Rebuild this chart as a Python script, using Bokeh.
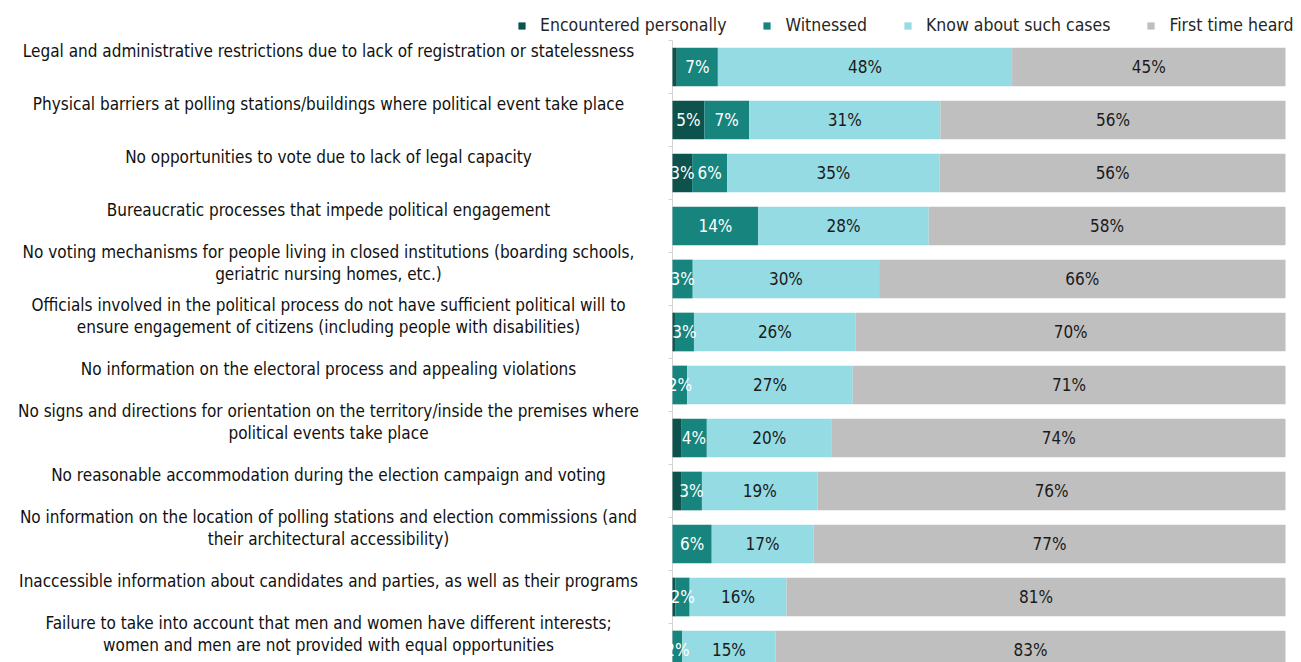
import numpy as np
from bokeh.plotting import figure
from bokeh.models import ColumnDataSource, Range1d, Legend, LegendItem
from bokeh.core.properties import value
from bokeh.embed import file_html
from bokeh.resources import INLINE

categories = [
    "Legal and administrative restrictions due to lack of registration or statelessness",
    "Physical barriers at polling stations/buildings where political event take place",
    "No opportunities to vote due to lack of legal capacity",
    "Bureaucratic processes that impede political engagement",
    "No voting mechanisms for people living in closed institutions (boarding schools,\ngeriatric nursing homes, etc.)",
    "Officials involved in the political process do not have sufficient political will to\nensure engagement of citizens (including people with disabilities)",
    "No information on the electoral process and appealing violations",
    "No signs and directions for orientation on the territory/inside the premises where\npolitical events take place",
    "No reasonable accommodation during the election campaign and voting",
    "No information on the location of polling stations and election commissions (and\ntheir architectural accessibility)",
    "Inaccessible information about candidates and parties, as well as their programs",
    "Failure to take into account that men and women have different interests;\nwomen and men are not provided with equal opportunities",
]
series_names = ["Encountered personally", "Witnessed", "Know about such cases", "First time heard"]
encountered = [0.7, 5.2, 3.2, 0.0, 0.0, 0.4, 0.0, 1.4, 1.4, 0.0, 0.5, 0.0]
witnessed   = [6.7, 7.3, 5.7, 14.0, 3.3, 3.1, 2.4, 4.2, 3.4, 6.4, 2.3, 1.6]
know        = [48.0, 31.2, 34.7, 27.8, 30.4, 26.4, 27.0, 20.4, 18.9, 16.6, 15.8, 15.2]
first_time  = [44.6, 56.3, 56.4, 58.2, 66.3, 70.1, 70.6, 74.0, 76.3, 77.0, 81.4, 83.2]

colors = ["#0d524d", "#17857e", "#95dbe4", "#bfbfbf"]
label_colors = ["white", "white", "#1a1a1a", "#1a1a1a"]
keys = ["enc", "wit", "know", "first"]
values = [encountered, witnessed, know, first_time]
FONT = value("DejaVu Sans Condensed")

n = len(categories)
ypos = list(range(n))
data = dict(y=ypos, cat=categories)
for k, v in zip(keys, values):
    data[k] = v
source = ColumnDataSource(data)

W, H = 1301, 662
px_per_pct = 6.13      # horizontal scale
x0_px = 672            # where 0% sits
row_px = 53.0          # vertical pitch
row0_px = 66.5         # centre of first row

p = figure(width=W, height=H, output_backend="svg", toolbar_location=None,
           x_range=Range1d(-x0_px / px_per_pct, (W - x0_px) / px_per_pct),
           y_range=Range1d((H - row0_px) / row_px, -row0_px / row_px),
           x_axis_location=None, y_axis_location=None,
           min_border=0, min_border_left=0, min_border_right=0,
           min_border_top=0, min_border_bottom=0)
p.outline_line_color = None
p.xgrid.visible = False
p.ygrid.visible = False
p.background_fill_color = "white"

# axis line and ticks (category axis at 0%)
tick_len = 4 / px_per_pct
p.segment(x0=[0], y0=[-0.5], x1=[0], y1=[n - 0.5], line_color="#d4d4d4", line_width=1)
bounds = [i - 0.5 for i in range(n + 1)]
p.segment(x0=[-tick_len] * len(bounds), y0=bounds, x1=[0] * len(bounds), y1=bounds,
          line_color="#d4d4d4", line_width=1)

renderers = p.hbar_stack(keys, y="y", height=0.73, color=colors, line_color=None, source=source)

# value labels
arr = np.array(values)
cum = np.cumsum(arr, axis=0)
starts = cum - arr
for i, k in enumerate(keys):
    xs, ys, ts = [], [], []
    for j in range(n):
        v = arr[i, j]
        if round(v) >= 2:
            xs.append((starts[i, j] + cum[i, j]) / 2)
            ys.append(j)
            ts.append(f"{round(v)}%")
    ls = ColumnDataSource(dict(x=xs, y=ys, t=ts))
    p.text(x="x", y="y", text="t", source=ls, text_align="center",
           text_baseline="middle", text_color=label_colors[i],
           text_font=FONT, text_font_size="17px")

# category labels
label_center = (328 - x0_px) / px_per_pct
cat_src = ColumnDataSource(dict(x=[label_center] * n, y=ypos, t=categories))
p.text(x="x", y="y", text="t", source=cat_src, text_align="center",
       text_baseline="middle", y_offset=-16, text_color="#111111",
       text_font=FONT, text_font_size="17px", text_line_height=1.1)

legend = Legend(items=[LegendItem(label=s, renderers=[r]) for s, r in zip(series_names, renderers)],
                orientation="horizontal", location=(517, 627),
                glyph_width=9, glyph_height=9, label_standoff=14, spacing=36,
                label_text_font="DejaVu Sans Condensed", label_text_font_size="17.5px",
                label_text_color="#262626", border_line_color=None,
                background_fill_alpha=0, padding=0, margin=0)
p.add_layout(legend, "center")

open("out.html", "w").write(file_html(p, INLINE))
